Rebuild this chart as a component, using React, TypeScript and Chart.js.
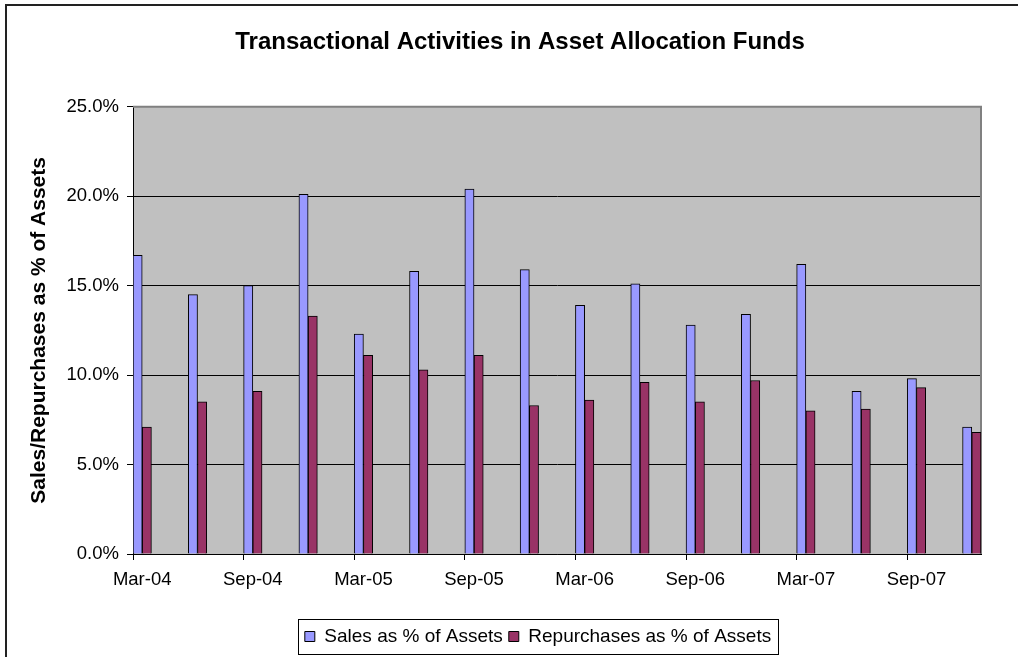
import React, { useEffect, useRef } from 'react';
import { Chart, registerables } from 'chart.js';

Chart.register(...registerables);

const quarters = ['Mar-04','Jun-04','Sep-04','Dec-04','Mar-05','Jun-05','Sep-05','Dec-05','Mar-06','Jun-06','Sep-06','Dec-06','Mar-07','Jun-07','Sep-07','Dec-07'];
const salesPct = [16.7, 14.5, 15.0, 20.1, 12.3, 15.8, 20.4, 15.9, 13.9, 15.1, 12.8, 13.4, 16.2, 9.1, 9.8, 7.1];
const repurchasesPct = [7.1, 8.5, 9.1, 13.3, 11.1, 10.3, 11.1, 8.3, 8.6, 9.6, 8.5, 9.7, 8.0, 8.1, 9.3, 6.8];
const shownTickLabels = ['Mar-04','Sep-04','Mar-05','Sep-05','Mar-06','Sep-06','Mar-07','Sep-07'];
const monthNames = ['Jan','Feb','Mar','Apr','May','Jun','Jul','Aug','Sep','Oct','Nov','Dec'];
const yearSuffixes = ['04','05','06','07'];
const yTicks = [0, 5, 10, 15, 20, 25];

const allMonths: string[] = [];
yearSuffixes.forEach((y) => monthNames.forEach((m) => allMonths.push(`${m}-${y}`)));
const monthAxis = allMonths.slice(allMonths.indexOf(quarters[0]), allMonths.indexOf(quarters[quarters.length - 1]) + 1);

const toMonthly = (vals: number[]) =>
  monthAxis.map((lab) => {
    const i = quarters.indexOf(lab);
    return i >= 0 ? vals[i] : null;
  });

const FONT = "'Liberation Sans', Arial, Helvetica, sans-serif";

const decorPlugin = {
  id: 'decor',
  afterLayout(chart: any) {
    const tb = chart.titleBlock;
    if (tb) { tb.left = 0; tb.right = 1040; }
    const lg = chart.legend;
    if (lg) { lg.left = 95; lg.right = 981; }
  },
  beforeDraw(chart: any) {
    const { ctx, chartArea: a } = chart;
    ctx.save();
    ctx.fillStyle = '#C0C0C0';
    ctx.fillRect(a.left, a.top, a.right - a.left, a.bottom - a.top);
    ctx.restore();
  },
  beforeDatasetsDraw(chart: any) {
    const { ctx, chartArea: a } = chart;
    ctx.save();
    ctx.strokeStyle = '#808080';
    ctx.lineWidth = 2;
    ctx.beginPath();
    ctx.moveTo(a.left, a.top);
    ctx.lineTo(a.right, a.top);
    ctx.lineTo(a.right, a.bottom);
    ctx.stroke();
    ctx.restore();
  },
  afterDraw(chart: any) {
    const { ctx } = chart;
    ctx.save();
    ctx.strokeStyle = '#222';
    ctx.lineWidth = 2;
    ctx.beginPath();
    ctx.moveTo(6, 700);
    ctx.lineTo(6, 5);
    ctx.lineTo(1100, 5);
    ctx.stroke();
    const hb = chart.legend && chart.legend.legendHitBoxes;
    if (hb && hb.length) {
      const l = Math.min(...hb.map((h: any) => h.left)) - 7;
      const r = Math.max(...hb.map((h: any) => h.left + h.width)) + 7;
      const t = hb[0].top - 8;
      const b = hb[0].top + hb[0].height + 8;
      ctx.strokeStyle = '#000';
      ctx.lineWidth = 1;
      ctx.strokeRect(Math.round(l) + 0.5, Math.round(t) + 0.5, Math.round(r - l), Math.round(b - t));
    }
    ctx.restore();
  },
};

export default function App() {
  const ref = useRef<HTMLCanvasElement>(null);

  useEffect(() => {
    if (!ref.current) return;
    Chart.defaults.font.family = FONT;
    Chart.defaults.color = '#000';
    const chart = new Chart(ref.current, {
      type: 'bar',
      data: {
        labels: monthAxis,
        datasets: [
          {
            label: 'Sales as % of Assets',
            data: toMonthly(salesPct),
            backgroundColor: '#9999FF',
            borderColor: '#000',
            borderWidth: 1,
            categoryPercentage: 1,
            barPercentage: 1,
          },
          {
            label: 'Repurchases as % of Assets',
            data: toMonthly(repurchasesPct),
            backgroundColor: '#993366',
            borderColor: '#000',
            borderWidth: 1,
            categoryPercentage: 1,
            barPercentage: 1,
          },
        ],
      },
      options: {
        responsive: false,
        animation: false,
        layout: { padding: { left: 0, right: 37, top: 0, bottom: 1 } },
        plugins: {
          title: {
            display: true,
            text: 'Transactional Activities in Asset Allocation Funds',
            font: { size: 24, weight: 'bold', family: FONT },
            color: '#000',
            padding: { top: 28, bottom: 50 },
          },
          legend: {
            display: true,
            position: 'bottom',
            fullSize: false,
            labels: {
              font: { size: 19, family: FONT },
              color: '#000',
              boxWidth: 10,
              boxHeight: 10,
              padding: 6,
            },
          },
          tooltip: { enabled: false },
        },
        scales: {
          x: {
            offset: true,
            afterFit: (s: any) => { s.height = 67; },
            grid: {
              offset: true,
              drawOnChartArea: false,
              drawTicks: true,
              tickLength: 6,
              color: (c: any) => (typeof c.index === 'number' && c.index % 6 === 0 ? '#000' : 'rgba(0,0,0,0)'),
            },
            border: { display: true, color: '#000', width: 1 },
            ticks: {
              autoSkip: false,
              maxRotation: 0,
              minRotation: 0,
              padding: 9,
              font: { size: 18.5, family: FONT },
              color: '#000',
              callback: (_v: any, i: number) => (shownTickLabels.includes(monthAxis[i]) ? monthAxis[i] : ''),
            },
          },
          y: {
            min: yTicks[0],
            max: yTicks[yTicks.length - 1],
            afterFit: (s: any) => { s.width = 133; },
            afterBuildTicks: (s: any) => { s.ticks = yTicks.map((v) => ({ value: v })); },
            grid: {
              color: (c: any) => (c.tick && c.tick.value === 25 ? '#808080' : '#000'),
              tickColor: '#000',
              tickLength: 6,
              drawTicks: true,
            },
            border: { display: true, color: '#000', width: 1 },
            ticks: {
              padding: 8,
              font: { size: 18.5, family: FONT },
              color: '#000',
              callback: (v: any) => Number(v).toFixed(1) + '%',
            },
            title: {
              display: true,
              text: 'Sales/Repurchases as % of Assets',
              font: { size: 21, weight: 'bold', family: FONT },
              color: '#000',
              padding: { top: 27, bottom: 0 },
            },
          },
        },
      },
      plugins: [decorPlugin],
    } as any);
    return () => chart.destroy();
  }, []);

  return (
    <div style={{ position: 'absolute', left: 0, top: 0, width: 1018, height: 657, background: '#fff' }}>
      <canvas ref={ref} width={1018} height={657} style={{ display: 'block' }} />
    </div>
  );
}
